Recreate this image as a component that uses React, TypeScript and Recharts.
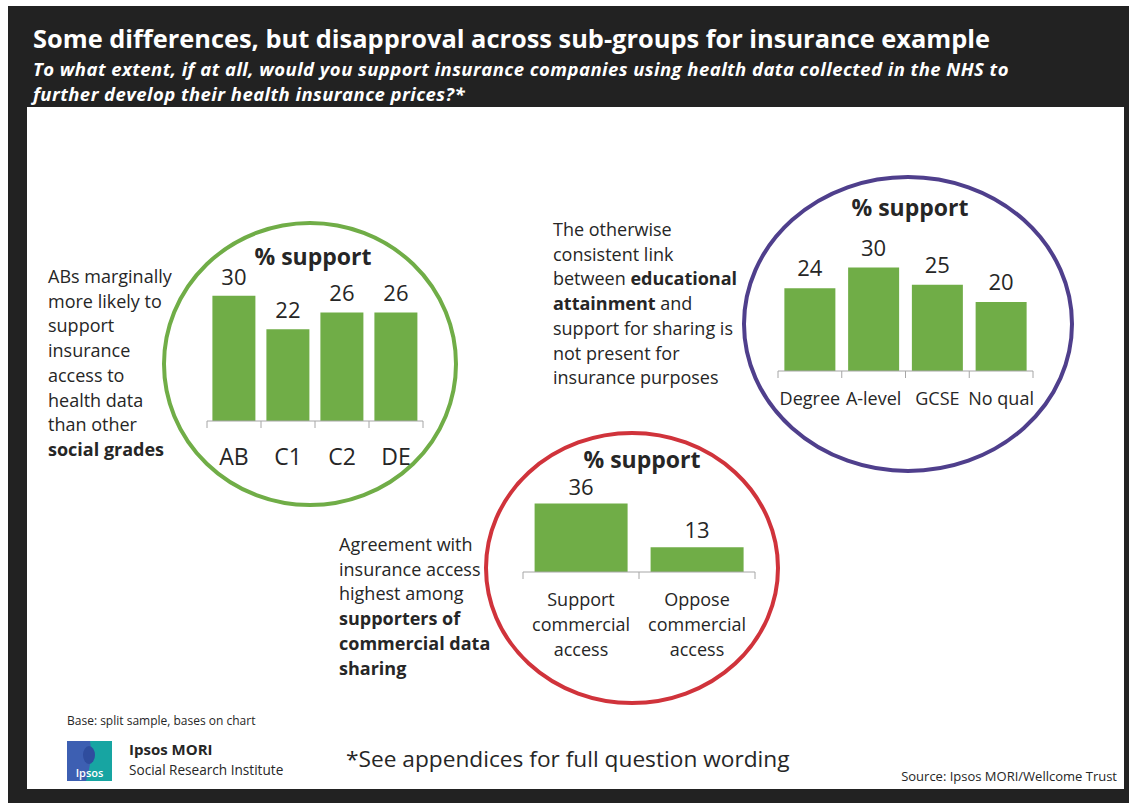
import { Bar, BarChart, LabelList, XAxis, YAxis } from "recharts"

// % support by social grade
const gradeCategories = ["AB", "C1", "C2", "DE"]
const gradeSupport = [30, 22, 26, 26]

// % support by education
const educationCategories = ["Degree", "A-level", "GCSE", "No qual"]
const educationSupport = [24, 30, 25, 20]

// % support by view on commercial sharing
const sharingCategories = ["Support commercial access", "Oppose commercial access"]
const sharingSupport = [36, 13]

const BAR_GREEN = "#70ad47"
const TEXT = "#262626"
const AXIS = "#a6a6a6"
const FONT = "'Open Sans', 'Noto Sans', sans-serif"

type Seg = { t: string; b?: boolean }

const gradeNote: Seg[][] = [
  [{ t: "ABs marginally" }],
  [{ t: "more likely to" }],
  [{ t: "support" }],
  [{ t: "insurance" }],
  [{ t: "access to" }],
  [{ t: "health data" }],
  [{ t: "than other" }],
  [{ t: "social grades", b: true }]
]

const educationNote: Seg[][] = [
  [{ t: "The otherwise" }],
  [{ t: "consistent link" }],
  [{ t: "between " }, { t: "educational", b: true }],
  [{ t: "attainment", b: true }, { t: " and" }],
  [{ t: "support for sharing is" }],
  [{ t: "not present for" }],
  [{ t: "insurance purposes" }]
]

const sharingNote: Seg[][] = [
  [{ t: "Agreement with" }],
  [{ t: "insurance access" }],
  [{ t: "highest among" }],
  [{ t: "supporters of", b: true }],
  [{ t: "commercial data", b: true }],
  [{ t: "sharing", b: true }]
]

function Note({ x, y, lines }: { x: number; y: number; lines: Seg[][] }) {
  return (
    <text x={x} y={y} fontSize={18} fill={TEXT} fontFamily={FONT}>
      {lines.map((line, i) =>
        line.map((seg, j) => (
          <tspan
            key={`${i}-${j}`}
            x={j === 0 ? x : undefined}
            dy={j === 0 && i > 0 ? 24.7 : undefined}
            fontWeight={seg.b ? 700 : 400}
          >
            {seg.t}
          </tspan>
        ))
      )}
    </text>
  )
}

type TickProps = {
  x?: number
  y?: number
  index?: number
  payload?: { value: string }
  band: number
  count: number
  fontSize: number
  baseline: number
  wrap?: boolean
}

function BoundaryTick({ x = 0, y = 0, index = 0, payload, band, count, fontSize, baseline, wrap }: TickProps) {
  const value = String(payload?.value ?? "")
  const lines = wrap ? value.split(" ") : [value]
  return (
    <g>
      <line x1={x - band / 2} x2={x - band / 2} y1={y} y2={y + 7} stroke={AXIS} />
      {index === count - 1 && (
        <line x1={x + band / 2} x2={x + band / 2} y1={y} y2={y + 7} stroke={AXIS} />
      )}
      <text x={x} y={y + baseline} textAnchor="middle" fontSize={fontSize} fill={TEXT} fontFamily={FONT}>
        {lines.map((line, i) => (
          <tspan key={i} x={x} dy={i === 0 ? 0 : 25}>
            {line}
          </tspan>
        ))}
      </text>
    </g>
  )
}

type SupportChartProps = {
  categories: string[]
  values: number[]
  left: number
  axisY: number
  plotWidth: number
  plotHeight: number
  axisHeight: number
  tickFont: number
  tickBaseline: number
  labelOffset: number
  wrap?: boolean
}

function SupportChart({
  categories,
  values,
  left,
  axisY,
  plotWidth,
  plotHeight,
  axisHeight,
  tickFont,
  tickBaseline,
  labelOffset,
  wrap
}: SupportChartProps) {
  const data = categories.map((name, i) => ({ name, value: values[i] }))
  const band = plotWidth / categories.length
  const mx = 20
  const mt = 30
  return (
    <div style={{ position: "absolute", left: left - mx, top: axisY - plotHeight - mt }}>
      <BarChart
        width={plotWidth + mx * 2}
        height={mt + plotHeight + axisHeight}
        data={data}
        margin={{ top: mt, right: mx, bottom: 0, left: mx }}
        barCategoryGap="10%"
      >
        <YAxis hide domain={[0, 40]} />
        <XAxis
          dataKey="name"
          height={axisHeight}
          interval={0}
          tickSize={0}
          tickMargin={0}
          tickLine={false}
          axisLine={{ stroke: AXIS }}
          tick={(props: any) => (
            <BoundaryTick
              {...props}
              band={band}
              count={categories.length}
              fontSize={tickFont}
              baseline={tickBaseline}
              wrap={wrap}
            />
          )}
        />
        <Bar dataKey="value" fill={BAR_GREEN} isAnimationActive={false}>
          <LabelList
            dataKey="value"
            position="top"
            offset={labelOffset}
            fill={TEXT}
            fontSize={22}
            fontFamily={FONT}
          />
        </Bar>
      </BarChart>
    </div>
  )
}

export default function App() {
  return (
    <div style={{ position: "absolute", left: 0, top: 0, width: 1129, height: 803, background: "#fff" }}>
      <svg width={1129} height={803} style={{ position: "absolute", left: 0, top: 0 }}>
        <rect x={8} y={6} width={1121} height={797} fill="#222222" />
        <rect x={27} y={107} width={1097} height={682} fill="#ffffff" />

        <text x={33} y={48} fill="#fff" fontSize={25.4} fontWeight={700} fontFamily={FONT}>
          Some differences, but disapproval across sub-groups for insurance example
        </text>
        <text
          x={33}
          y={76}
          fill="#fff"
          fontSize={18.5}
          letterSpacing={0.45}
          fontWeight={700}
          fontStyle="italic"
          fontFamily={FONT}
        >
          <tspan x={33}>To what extent, if at all, would you support insurance companies using health data collected in the NHS to</tspan>
          <tspan x={33} dy={25.4}>further develop their health insurance prices?*</tspan>
        </text>

        <ellipse cx={310} cy={364} rx={146} ry={141} fill="none" stroke="#70ad47" strokeWidth={4} />
        <ellipse cx={908} cy={324} rx={164} ry={147} fill="none" stroke="#4f3f8c" strokeWidth={4} />
        <ellipse cx={632} cy={568} rx={146} ry={135} fill="none" stroke="#d0333b" strokeWidth={4} />

        <text x={313} y={265} textAnchor="middle" fontSize={23} fontWeight={700} fill={TEXT} fontFamily={FONT}>
          % support
        </text>
        <text x={910} y={216} textAnchor="middle" fontSize={23} fontWeight={700} fill={TEXT} fontFamily={FONT}>
          % support
        </text>
        <text x={642} y={468} textAnchor="middle" fontSize={23} fontWeight={700} fill={TEXT} fontFamily={FONT}>
          % support
        </text>

        <Note x={48} y={283} lines={gradeNote} />
        <Note x={553} y={236} lines={educationNote} />
        <Note x={339} y={551} lines={sharingNote} />

        <text x={67} y={725} fontSize={12} fill={TEXT} fontFamily={FONT}>
          Base: split sample, bases on chart
        </text>

        <rect x={67} y={741} width={45} height={40} fill="#3d5fb2" />
        <path d="M90 741 H112 V781 H86 Q93 760 90 741 Z" fill="#17a5a2" />
        <ellipse cx={89} cy={755} rx={6} ry={9} fill="#2f4d9e" />
        <text x={89.5} y={777} textAnchor="middle" fontSize={11} fontWeight={600} fill="#fff" fontFamily={FONT}>
          Ipsos
        </text>
        <text x={129} y={755} fontSize={15} fontWeight={700} fill={TEXT} fontFamily={FONT}>
          Ipsos MORI
        </text>
        <text x={129} y={775} fontSize={13.6} fill={TEXT} fontFamily={FONT}>
          Social Research Institute
        </text>

        <text x={346} y={767} fontSize={22.7} fill={TEXT} fontFamily={FONT}>
          *See appendices for full question wording
        </text>
        <text x={1117} y={781} textAnchor="end" fontSize={13} fill={TEXT} fontFamily={FONT}>
          Source:  Ipsos MORI/Wellcome Trust
        </text>
      </svg>

      <SupportChart
        categories={gradeCategories}
        values={gradeSupport}
        left={207}
        axisY={421}
        plotWidth={216}
        plotHeight={167}
        axisHeight={60}
        tickFont={23}
        tickBaseline={44}
        labelOffset={11}
      />
      <SupportChart
        categories={educationCategories}
        values={educationSupport}
        left={778}
        axisY={371}
        plotWidth={255}
        plotHeight={138}
        axisHeight={50}
        tickFont={18}
        tickBaseline={34}
        labelOffset={12}
      />
      <SupportChart
        categories={sharingCategories}
        values={sharingSupport}
        left={523}
        axisY={572}
        plotWidth={232}
        plotHeight={76}
        axisHeight={100}
        tickFont={18}
        tickBaseline={34}
        labelOffset={9}
        wrap
      />
    </div>
  )
}
